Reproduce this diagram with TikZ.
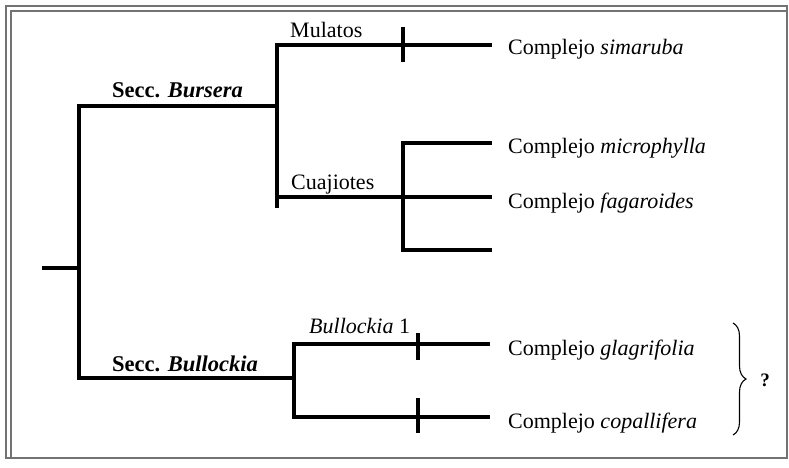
\documentclass[tikz,border=0pt]{standalone}
\usepackage{fontspec}
\setmainfont{Liberation Serif}
\usetikzlibrary{decorations.pathreplacing}
\begin{document}
\begin{tikzpicture}[x=1pt,y=-1pt,
  branch/.style={line width=3.4pt, line cap=butt, line join=miter},
  synapo/.style={line width=3.4pt, line cap=butt},
  lbl/.style={anchor=base west, inner sep=0pt, font=\fontsize{22}{26}\selectfont},
  seclbl/.style={lbl, font=\fontsize{22.5}{27}\selectfont\bfseries},
  frameline/.style={draw=black!55, line width=1.4pt},
  bracket/.style={decorate, decoration={brace, amplitude=13pt}, line width=1.1pt}]
\useasboundingbox (0,0) rectangle (789,467);

% double frame
\draw[frameline] (6,6) rectangle (787,458);
\draw[frameline] (11,458) -- (11,11) -- (787,11);

% root and the two sections
\coordinate (root) at (42,268);
\coordinate (rootv) at (79,268);
\coordinate (burA) at (79,106);
\coordinate (bulA) at (79,378);
\coordinate (burB) at (277,106);
\coordinate (bulB) at (294,378);

% Sect. Bursera
\coordinate (burTop) at (277,45);
\coordinate (burBot) at (277,208);
\coordinate (mulEnd) at (492,45);
\coordinate (cuaA) at (277,197);
\coordinate (cuaB) at (403,197);
\coordinate (cuaEnd) at (492,197);
\coordinate (cuaTop) at (403,143);
\coordinate (cuaBot) at (403,250);
\coordinate (micEnd) at (492,143);
\coordinate (unkEnd) at (492,250);

% Sect. Bullockia
\coordinate (bulTop) at (294,344);
\coordinate (bulBot) at (294,417);
\coordinate (glaEnd) at (490,344);
\coordinate (copEnd) at (490,417);

% synapomorphy ticks
\coordinate (t1a) at (403,27);  \coordinate (t1b) at (403,62);
\coordinate (t2a) at (418,333); \coordinate (t2b) at (418,360);
\coordinate (t3a) at (418,398); \coordinate (t3b) at (418,433);

% branches
\draw[branch] (root) -- (rootv);
\draw[branch] (burB) -- (burA) -- (bulA) -- (bulB);
\draw[branch] (burBot) -- (burTop) -- (mulEnd);
\draw[branch] (cuaA) -- (cuaB) -- (cuaEnd);
\draw[branch] (micEnd) -- (cuaTop) -- (cuaBot) -- (unkEnd);
\draw[branch] (glaEnd) -- (bulTop) -- (bulBot) -- (copEnd);

\draw[synapo] (t1a) -- (t1b);
\draw[synapo] (t2a) -- (t2b);
\draw[synapo] (t3a) -- (t3b);

% clade labels
\node[lbl] (mul) at (290,37) {Mulatos};
\node[lbl] (cua) at (291,189) {Cuajiotes};
\node[lbl] (bul1) at (309,333) {\textit{Bullockia} 1};
\node[seclbl] (secBur) at (112,97) {Secc. \textit{Bursera}};
\node[seclbl] (secBul) at (112,371) {Secc. \textit{Bullockia}};

% terminal taxa
\node[lbl] (sim) at (508,54) {Complejo \textit{simaruba}};
\node[lbl] (mic) at (508,153) {Complejo \textit{microphylla}};
\node[lbl] (fag) at (508,208) {Complejo \textit{fagaroides}};
\node[lbl] (gla) at (508,355) {Complejo \textit{glagrifolia}};
\node[lbl] (cop) at (508,428) {Complejo \textit{copallifera}};

% uncertain grouping
\coordinate (brTop) at (733,323);
\coordinate (brBot) at (733,435);
\draw[bracket] (brTop) -- (brBot);
\node[anchor=base, inner sep=0pt, font=\fontsize{19}{23}\selectfont\bfseries] (q) at (765,386) {?};
\end{tikzpicture}
\end{document}
